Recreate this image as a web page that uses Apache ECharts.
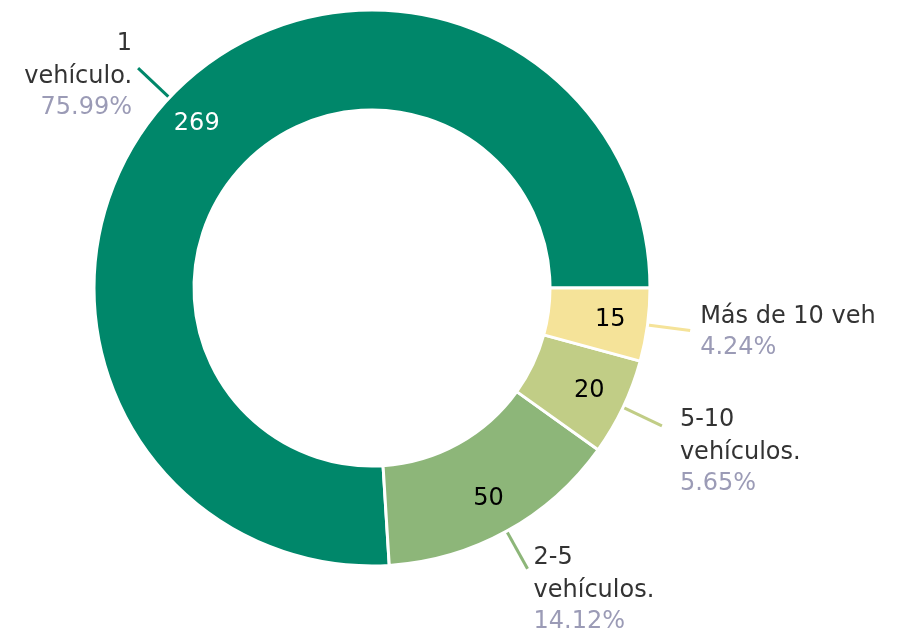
<!DOCTYPE html>
<html>
<head>
<meta charset="utf-8">
<script src="https://cdn.jsdelivr.net/npm/echarts@6/dist/echarts.min.js"></script>
<style>
  html, body { margin: 0; padding: 0; background: #fff; }
  #chart { width: 897px; height: 631px; }
</style>
</head>
<body>
<div id="chart"></div>
<script>
// categories as printed beside the ring
const categories = ['1\nvehículo.', '2-5\nvehículos.', '5-10\nvehículos.', 'Más de 10 veh']
const values = [269, 50, 20, 15]
const colors = ['#00876a', '#8db679', '#c1cd86', '#f5e399']
const valueColors = ['#ffffff', '#000000', '#000000', '#000000']
// extra padding [top, right, bottom, left] to nudge outside labels like the original
const labelPads = [[14, 0, 0, 0], [40, 0, 0, 0], [50, 0, 0, 12], [2, 0, 0, 4]]

const font = 'DejaVu Sans, Verdana, sans-serif'
const center = [372, 288]

const chart = echarts.init(document.getElementById('chart'))
chart.setOption({
  animation: false,
  series: [
    {
      // the ring, with outside name + percent
      type: 'pie',
      center: center,
      radius: [178, 278],
      startAngle: 0,
      clockwise: false,
      avoidLabelOverlap: false,
      itemStyle: { borderColor: '#fff', borderWidth: 3 },
      label: {
        position: 'outside',
        fontFamily: font,
        distanceToLabelLine: 6,
        formatter: (p) => `{n|${p.name}}\n{p|${p.percent.toFixed(2)}%}`,
        rich: {
          n: { fontFamily: font, fontSize: 24, color: '#333333', lineHeight: 33 },
          p: { fontFamily: font, fontSize: 24, color: '#9b9bb6', lineHeight: 29 }
        }
      },
      labelLine: {
        show: true,
        length: 43,
        length2: 0,
        lineStyle: { width: 3 }
      },
      data: categories.map((name, i) => ({
        name: name,
        value: values[i],
        itemStyle: { color: colors[i] },
        label: { padding: labelPads[i] },
        labelLine: { lineStyle: { color: colors[i] } }
      }))
    },
    {
      // transparent copy only to put the values a bit outward in the ring
      type: 'pie',
      center: center,
      radius: [197, 278],
      startAngle: 0,
      clockwise: false,
      silent: true,
      avoidLabelOverlap: false,
      itemStyle: { color: 'transparent', borderWidth: 0 },
      label: {
        position: 'inside',
        fontFamily: font,
        fontSize: 24,
        formatter: (p) => p.value
      },
      labelLine: { show: false },
      data: categories.map((name, i) => ({
        name: name,
        value: values[i],
        label: { color: valueColors[i] }
      }))
    }
  ]
})
</script>
</body>
</html>
